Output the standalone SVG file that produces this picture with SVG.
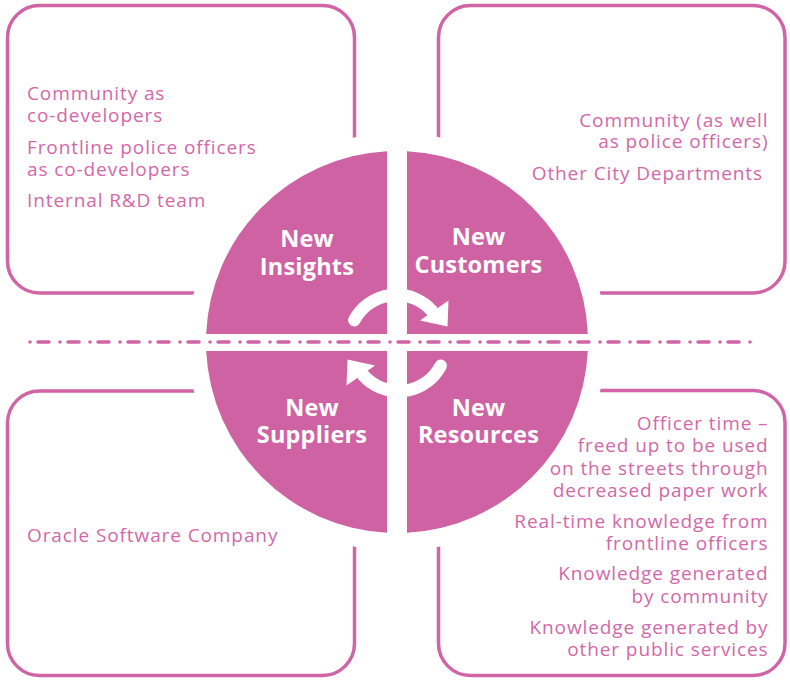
<svg xmlns="http://www.w3.org/2000/svg" width="790" height="681" viewBox="0 0 790 681">
<defs>
<mask id="halo" maskUnits="userSpaceOnUse" x="0" y="0" width="790" height="681">
<rect width="790" height="681" fill="#fff"/>
<circle cx="397" cy="342" r="209" fill="#000"/>
</mask>
</defs>
<style>
.box{fill:none;stroke:#D064A5;stroke-width:3.5}
.q{fill:#CF62A3}
.t{font-family:"Open Sans","Liberation Sans",sans-serif;font-size:19px;letter-spacing:0.9px;fill:#D268A9}
.r{text-anchor:end}
.h{font-family:"Open Sans","Liberation Sans",sans-serif;font-size:23.5px;letter-spacing:0.2px;font-weight:bold;fill:#fff;text-anchor:middle}
.arc{fill:none;stroke:#fff;stroke-width:12.5;stroke-linecap:round}
</style>
<rect width="790" height="681" fill="#fff"/>
<g id="box-insights"><rect class="box" x="7.5" y="5.5" width="347" height="287.5" rx="32" mask="url(#halo)"/>
<text class="t" x="27" y="99.5">Community as<tspan x="27" dy="22">co-developers</tspan></text>
<text class="t" x="27" y="154">Frontline police officers<tspan x="27" dy="21.5">as co-developers</tspan></text>
<text class="t" x="27" y="207">Internal R&amp;D team</text>
</g>
<g id="box-customers"><rect class="box" x="438.5" y="5.5" width="346.5" height="287.5" rx="32" mask="url(#halo)"/>
<text class="t r" x="768.5" y="127">Community (as well<tspan x="768.5" dy="21">as police officers)</tspan></text>
<text class="t r" x="763" y="180">Other City Departments</text>
</g>
<g id="box-suppliers"><rect class="box" x="7.5" y="391" width="347" height="284.5" rx="32" mask="url(#halo)"/>
<text class="t" x="27" y="542">Oracle Software Company</text>
</g>
<g id="box-resources"><rect class="box" x="438.5" y="390.5" width="346.5" height="285" rx="32" mask="url(#halo)"/>
<text class="t r" x="768.5" y="430">Officer time –<tspan x="768.5" dy="22">freed up to be used</tspan><tspan x="768.5" dy="22.5">on the streets through</tspan><tspan x="768.5" dy="22.5">decreased paper work</tspan></text>
<text class="t r" x="768.5" y="527.5">Real-time knowledge from<tspan x="768.5" dy="22.5">frontline officers</tspan></text>
<text class="t r" x="768.5" y="580">Knowledge generated<tspan x="768.5" dy="23">by community</tspan></text>
<text class="t r" x="768.5" y="633.5">Knowledge generated by<tspan x="768.5" dy="22.5">other public services</tspan></text>
</g>
<g id="q-insights"><path class="q" d="M387 334 L387 151.26 A191 191 0 0 0 206.17 334 Z"/>
<text class="h" x="307" y="247">New<tspan x="307" dy="28">Insights</tspan></text></g>
<g id="q-customers"><path class="q" d="M407 334 L407 151.26 A191 191 0 0 1 587.83 334 Z"/>
<text class="h" x="478.5" y="245">New<tspan x="478.5" dy="28">Customers</tspan></text></g>
<g id="q-suppliers"><path class="q" d="M387 351 L206.21 351 A191 191 0 0 0 387 532.74 Z"/>
<text class="h" x="312" y="416">New<tspan x="312" dy="27">Suppliers</tspan></text></g>
<g id="q-resources"><path class="q" d="M407 351 L407 532.74 A191 191 0 0 0 587.79 351 Z"/>
<text class="h" x="478.5" y="416">New<tspan x="478.5" dy="27">Resources</tspan></text></g>
<g id="connectors">
<line x1="30" y1="342" x2="756" y2="342" stroke="#D064A5" stroke-width="3.5" stroke-linecap="round" stroke-dasharray="0 8 11 11"/>
<g id="arrow-top"><path class="arc" d="M354.3 320.2 A47.5 47.5 0 0 1 432 311"/><polygon points="420,320.5 448.5,300.5 447.5,326.5" fill="#fff"/></g>
<g id="arrow-bottom" transform="rotate(180 397.5 343)"><path class="arc" d="M354.3 320.2 A47.5 47.5 0 0 1 432 311"/><polygon points="420,320.5 448.5,300.5 447.5,326.5" fill="#fff"/></g>
</g>
</svg>
